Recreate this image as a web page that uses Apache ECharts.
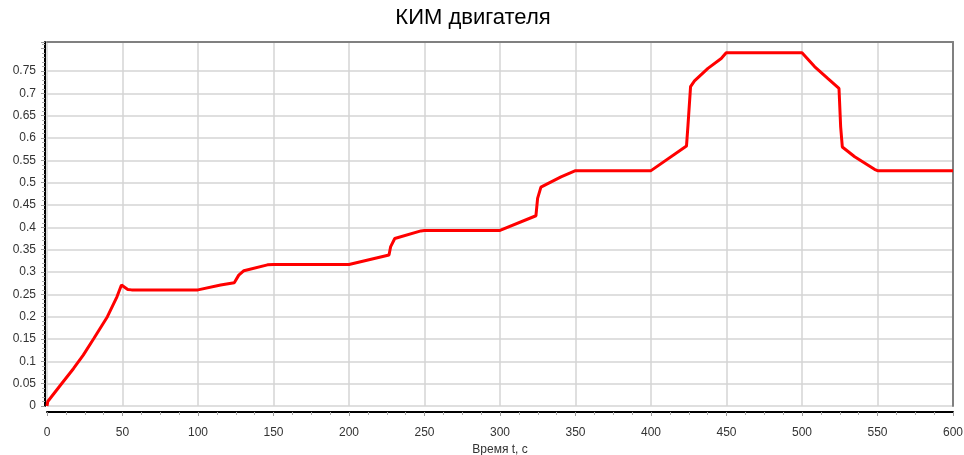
<!DOCTYPE html>
<html>
<head>
<meta charset="utf-8">
<title>КИМ двигателя</title>
<script src="https://cdn.jsdelivr.net/npm/echarts@6/dist/echarts.min.js"></script>
<style>
  html, body { margin: 0; padding: 0; background: #fff; }
  #chart { width: 964px; height: 455px; }
</style>
</head>
<body>
<div id="chart"></div>
<script>
// время, с
const times = [0, 0.5, 9, 17.6, 24, 31, 40, 46.4, 49.3, 53.5, 56, 100, 115, 124, 127, 130.4, 146, 150,
  200, 226.5, 227.6, 230.3, 247.6, 250, 300, 323.8, 324.9, 327.1, 340.4, 350, 400, 423.5, 424.5,
  426.2, 428.8, 437.7, 446.5, 449.8, 500, 508.3, 517.2, 524.5, 525.6, 526.7, 534.9, 548, 550, 600]
// КИМ
const kim = [0, 0.01, 0.047, 0.084, 0.114, 0.151, 0.2, 0.245, 0.271, 0.261, 0.26, 0.26, 0.271, 0.276, 0.293, 0.303, 0.316, 0.317,
  0.317, 0.338, 0.357, 0.375, 0.392, 0.393, 0.393, 0.426, 0.465, 0.49, 0.513, 0.527, 0.527, 0.582, 0.629,
  0.715, 0.728, 0.756, 0.778, 0.791, 0.791, 0.76, 0.733, 0.711, 0.625, 0.58, 0.558, 0.53, 0.527, 0.527]

const yMax = 0.815
const lastLabel = 0.75

const chart = echarts.init(document.getElementById('chart'))

const gridColors = []
for (let i = 0; i < 18; i++) {
  gridColors.push(i * 0.05 <= lastLabel + 0.001 ? '#d4d4d4' : 'rgba(0,0,0,0)')
}

const labelFont = { fontFamily: 'Liberation Sans', fontSize: 12, color: '#333' }

const option = {
  animation: false,
  title: {
    text: 'КИМ двигателя',
    left: 473,
    top: 7,
    padding: 0,
    textAlign: 'center',
    textStyle: { fontFamily: 'Liberation Sans', fontSize: 22, fontWeight: 'normal', color: '#000' }
  },
  grid: { left: 47, right: 11, top: 42, bottom: 49, outerBoundsMode: 'none', containLabel: false },
  xAxis: [
    {
      type: 'value',
      min: 0,
      max: 600,
      interval: 50,
      offset: 6,
      name: 'Время t, с',
      nameLocation: 'middle',
      nameGap: 29,
      nameTextStyle: labelFont,
      axisLine: { show: true, onZero: false, lineStyle: { color: '#000', width: 2 } },
      axisTick: { show: true, length: 4, lineStyle: { color: '#999' } },
      minorTick: { show: true, splitNumber: 4, length: 3, lineStyle: { color: '#aaa' } },
      axisLabel: Object.assign({ margin: 15 }, labelFont),
      splitLine: { show: true, lineStyle: { color: '#d4d4d4', width: 1.5 } }
    },
    {
      type: 'value',
      position: 'top',
      min: 0,
      max: 600,
      axisLine: { show: true, onZero: false, lineStyle: { color: '#808080', width: 2 } },
      axisTick: { show: false },
      axisLabel: { show: false },
      splitLine: { show: false }
    }
  ],
  yAxis: [
    {
      type: 'value',
      min: 0,
      max: yMax,
      interval: 0.05,
      offset: 2,
      axisLine: { show: true, onZero: false, lineStyle: { color: '#000', width: 2 } },
      axisTick: { show: true, length: 4, lineStyle: { color: '#999' } },
      minorTick: { show: true, splitNumber: 5, length: 3, lineStyle: { color: '#aaa' } },
      axisLabel: Object.assign({
        margin: 9,
        formatter: function (v) {
          return v > lastLabel + 0.001 ? '' : String(+v.toFixed(2))
        }
      }, labelFont),
      splitLine: { show: true, lineStyle: { color: gridColors, width: 1.5 } }
    },
    {
      type: 'value',
      position: 'right',
      min: 0,
      max: yMax,
      axisLine: { show: true, onZero: false, lineStyle: { color: '#808080', width: 2 } },
      axisTick: { show: false },
      axisLabel: { show: false },
      splitLine: { show: false }
    }
  ],
  series: [
    {
      type: 'line',
      xAxisIndex: 0,
      yAxisIndex: 0,
      showSymbol: false,
      lineStyle: { color: '#ff0000', width: 3 },
      data: times.map((t, i) => [t, kim[i]])
    }
  ]
}

chart.setOption(option)
</script>
</body>
</html>
